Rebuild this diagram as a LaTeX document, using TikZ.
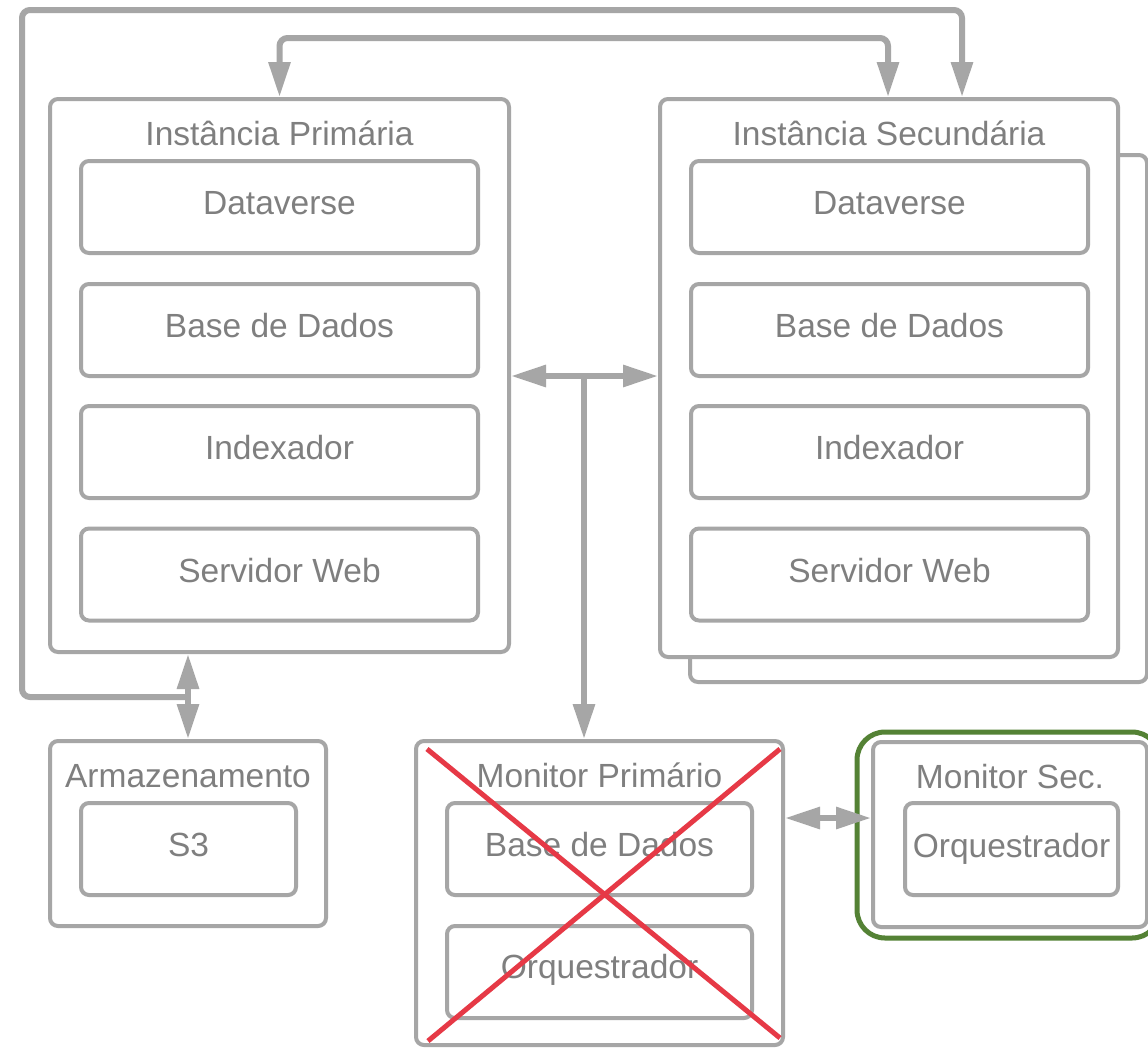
\documentclass[tikz,border=0pt]{standalone}
\usepackage{fontspec}
\setmainfont{Liberation Sans}
\usetikzlibrary{arrows.meta}
\definecolor{boxgray}{HTML}{A6A6A6}
\definecolor{txtgray}{HTML}{7F7F7F}
\definecolor{xred}{HTML}{E63946}
\definecolor{okgreen}{HTML}{548235}
\begin{document}
\begin{tikzpicture}[x=1pt,y=-1pt,
  box/.style={draw=boxgray, line width=4pt, rounded corners=8pt, fill=white, inner sep=0pt},
  inbox/.style={box, minimum width=397pt, minimum height=92pt},
  lbl/.style={text=txtgray, font=\fontsize{33.5}{40}\selectfont, anchor=base, inner sep=0pt},
  conn/.style={draw=boxgray, line width=6pt, rounded corners=8pt},
  tipend/.style={-{Triangle[length=35pt,width=21pt]}},
  tipboth/.style={{Triangle[length=35pt,width=21pt]}-{Triangle[length=35pt,width=21pt]}},
  xline/.style={draw=xred, line width=5pt}
]
\useasboundingbox[fill=white] (0,0) rectangle (1148,1047);

% Primary instance
\node[box, minimum width=459pt, minimum height=553pt] (pi) at (279.5,375.5) {};
\node[inbox] (pd) at (279.5,207) {};
\node[inbox] (pb) at (279.5,330) {};
\node[inbox] (px) at (279.5,452) {};
\node[inbox] (pw) at (279.5,574.5) {};
\node[lbl] (pit) at (279.5,145) {Instância Primária};
\node[lbl] (pdt) at (279.5,214) {Dataverse};
\node[lbl] (pbt) at (279.5,337) {Base de Dados};
\node[lbl] (pxt) at (279.5,459) {Indexador};
\node[lbl] (pwt) at (279.5,582) {Servidor Web};

% Secondary instance (with stacked copy)
\node[box, minimum width=457pt, minimum height=527pt] (ss) at (918.5,418.5) {};
\node[box, minimum width=458pt, minimum height=558pt] (si) at (889,378) {};
\node[inbox] (sd) at (889.5,207) {};
\node[inbox] (sb) at (889.5,330) {};
\node[inbox] (sx) at (889.5,452) {};
\node[inbox] (sw) at (889.5,574.5) {};
\node[lbl] (sit) at (889,145) {Instância Secundária};
\node[lbl] (sdt) at (889.5,214) {Dataverse};
\node[lbl] (sbt) at (889.5,337) {Base de Dados};
\node[lbl] (sxt) at (889.5,459) {Indexador};
\node[lbl] (swt) at (889.5,582) {Servidor Web};

% Storage
\node[box, minimum width=276pt, minimum height=185pt] (ar) at (188,833.5) {};
\node[box, minimum width=215pt, minimum height=92pt] (s3) at (188.5,849) {};
\node[lbl] (art) at (188,787) {Armazenamento};
\node[lbl] (s3t) at (188.5,856) {S3};

% Primary monitor
\node[box, minimum width=367pt, minimum height=304pt] (mp) at (599.5,893) {};
\node[box, minimum width=305pt, minimum height=92pt] (mpb) at (599.5,849) {};
\node[box, minimum width=305pt, minimum height=92pt] (mpo) at (599.5,972) {};
\node[lbl] (mpt) at (599.5,787) {Monitor Primário};
\node[lbl] (mpbt) at (599.5,856) {Base de Dados};
\node[lbl] (mpot) at (599.5,978) {Orquestrador};

% Secondary monitor
\node[draw=okgreen, line width=5pt, rounded corners=28pt, minimum width=303pt, minimum height=206pt, inner sep=0pt] (gr) at (1008.5,835) {};
\node[box, minimum width=274pt, minimum height=185pt] (ms) at (1010,834.5) {};
\node[box, minimum width=213pt, minimum height=92pt] (mso) at (1011.5,849) {};
\node[lbl] (mst) at (1010,788) {Monitor Sec.};
\node[lbl] (msot) at (1011.5,857) {Orquestrador};

% Connectors
\coordinate (t1) at (279.5,38);
\coordinate (t2) at (888,38);
\draw[conn, tipboth] (pi.north) -- (t1) -- (t2) -- (t2 |- si.north);

\coordinate (j1) at (188,697);
\coordinate (lc) at (22,10);
\coordinate (rc) at (962,10);
\draw[conn, tipboth] (ar.north |- pi.south) -- (ar.north);
\draw[conn, tipend] (j1) -| (lc) -- (rc) -- (rc |- si.north);

\coordinate (j2) at (584,376);
\draw[conn, tipboth] (pi.east |- j2) -- (si.west |- j2);
\draw[conn, tipend] (j2) -- (j2 |- mp.north);

\coordinate (j3) at (0,818);
\draw[conn, tipboth] (mp.east |- j3) -- (ms.west |- j3);

% Red cross over primary monitor
\draw[xline] (427,749) -- (780,1038);
\draw[xline] (780,749) -- (428,1041);
\end{tikzpicture}
\end{document}
